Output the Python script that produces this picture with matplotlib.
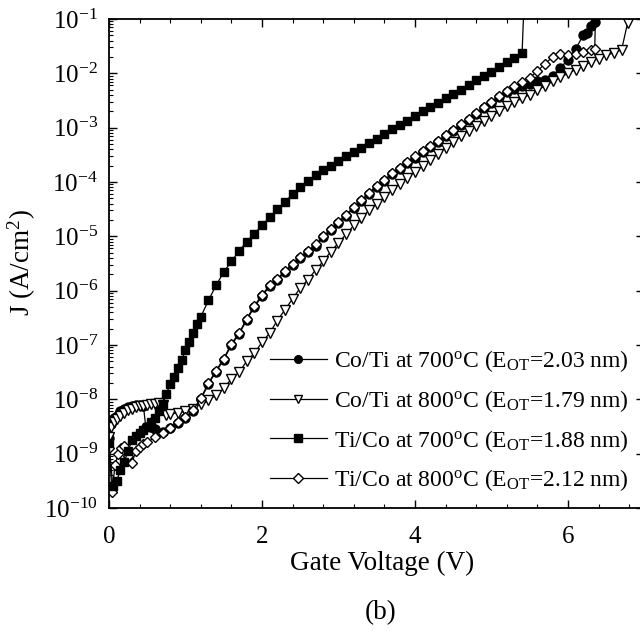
import matplotlib
matplotlib.use('Agg')
import matplotlib.pyplot as plt
import numpy as np
from matplotlib.ticker import LogLocator, MultipleLocator, NullFormatter

# Data: gate voltage (V) and log10 of J (A/cm^2)
v_coti700 = [0.0, 0.03, 0.06, 0.1, 0.15, 0.2, 0.25, 0.3, 0.35, 0.4, 0.45, 0.48,
             0.55, 0.6, 0.7, 0.8, 0.9,
             1.0, 1.1, 1.2, 1.3, 1.4, 1.5, 1.6, 1.7, 1.8, 1.9,
             2.0, 2.1, 2.2, 2.3, 2.4, 2.5, 2.6, 2.7, 2.8, 2.9,
             3.0, 3.1, 3.2, 3.3, 3.4, 3.5, 3.6, 3.7, 3.8, 3.9,
             4.0, 4.1, 4.2, 4.3, 4.4, 4.5, 4.6, 4.7, 4.8, 4.9,
             5.0, 5.1, 5.2, 5.3, 5.4, 5.5, 5.6, 5.7, 5.8, 5.9,
             6.0, 6.1, 6.2, 6.25, 6.3, 6.35, 6.36]
lj_coti700 = [-8.72, -8.45, -8.35, -8.3, -8.22, -8.18, -8.14, -8.12, -8.1, -8.1, -8.12, -8.5,
              -8.5, -8.55, -8.6, -8.53, -8.44,
              -8.35, -8.22, -8.0, -7.72, -7.49, -7.27, -7.0, -6.8, -6.54, -6.3,
              -6.1, -5.92, -5.8, -5.66, -5.52, -5.4, -5.29, -5.17, -5.02, -4.89,
              -4.75, -4.62, -4.48, -4.35, -4.22, -4.09, -3.98, -3.86, -3.76, -3.65,
              -3.55, -3.45, -3.35, -3.26, -3.16, -3.06, -2.96, -2.86, -2.75, -2.64,
              -2.54, -2.44, -2.35, -2.28, -2.23, -2.19, -2.15, -2.12, -2.05, -1.9,
              -1.75, -1.55, -1.3, -1.25, -1.12, -1.05, -0.9]

v_coti800 = [0.0, 0.03, 0.06, 0.1, 0.15, 0.2, 0.25, 0.3, 0.35, 0.4, 0.45, 0.5,
             0.55, 0.6, 0.65, 0.7, 0.75, 0.8, 0.9,
             1.0, 1.1, 1.2, 1.3, 1.4, 1.5, 1.6, 1.7, 1.8, 1.9,
             2.0, 2.1, 2.2, 2.3, 2.4, 2.5, 2.6, 2.7, 2.8, 2.9,
             3.0, 3.1, 3.2, 3.3, 3.4, 3.5, 3.6, 3.7, 3.8, 3.9,
             4.0, 4.1, 4.2, 4.3, 4.4, 4.5, 4.6, 4.7, 4.8, 4.9,
             5.0, 5.1, 5.2, 5.3, 5.4, 5.5, 5.6, 5.7, 5.8, 5.9,
             6.0, 6.1, 6.2, 6.3, 6.4, 6.5, 6.6, 6.7, 6.78, 6.8]
lj_coti800 = [-8.7, -8.5, -8.42, -8.36, -8.3, -8.25, -8.2, -8.17, -8.15, -8.13, -8.12, -8.1,
              -8.09, -8.08, -8.07, -8.1, -8.28, -8.27, -8.25,
              -8.22, -8.17, -8.08, -8.02, -7.92, -7.8, -7.62, -7.5, -7.3, -7.15,
              -6.95, -6.78, -6.55, -6.35, -6.15, -5.95, -5.8, -5.62, -5.46, -5.28,
              -5.12, -4.96, -4.8, -4.66, -4.52, -4.4, -4.28, -4.15, -4.03, -3.92,
              -3.81, -3.7, -3.59, -3.48, -3.37, -3.26, -3.16, -3.06, -2.97, -2.88,
              -2.79, -2.7, -2.61, -2.53, -2.46, -2.39, -2.31, -2.23, -2.15, -2.07,
              -2.0, -1.93, -1.86, -1.79, -1.73, -1.67, -1.62, -1.57, -1.07, -0.9]

v_tico700 = [0.0, 0.05, 0.1, 0.15, 0.2, 0.25, 0.3, 0.35, 0.4, 0.45, 0.5,
             0.55, 0.6, 0.65, 0.7, 0.75, 0.8, 0.85, 0.9, 0.95, 1.0,
             1.05, 1.1, 1.15, 1.2, 1.3, 1.4, 1.5, 1.6, 1.7, 1.8, 1.9,
             2.0, 2.1, 2.2, 2.3, 2.4, 2.5, 2.6, 2.7, 2.8, 2.9,
             3.0, 3.1, 3.2, 3.3, 3.4, 3.5, 3.6, 3.7, 3.8, 3.9,
             4.0, 4.1, 4.2, 4.3, 4.4, 4.5, 4.6, 4.7, 4.8, 4.9,
             5.0, 5.1, 5.2, 5.3, 5.4, 5.42]
lj_tico700 = [-8.8, -9.6, -9.5, -9.3, -9.15, -8.95, -8.75, -8.68, -8.62, -8.57, -8.5,
              -8.42, -8.35, -8.22, -8.08, -7.9, -7.72, -7.58, -7.42, -7.27, -7.1,
              -6.94, -6.78, -6.62, -6.48, -6.18, -5.9, -5.66, -5.46, -5.27, -5.1, -4.95,
              -4.8, -4.65, -4.5, -4.36, -4.23, -4.1, -3.98, -3.88, -3.78, -3.7,
              -3.62, -3.53, -3.45, -3.37, -3.28, -3.2, -3.12, -3.03, -2.95, -2.87,
              -2.79, -2.7, -2.62, -2.54, -2.46, -2.38, -2.3, -2.21, -2.13, -2.05,
              -1.97, -1.89, -1.8, -1.72, -1.63, -0.9]

v_tico800 = [0.0, 0.04, 0.08, 0.12, 0.16, 0.2, 0.25, 0.3, 0.35, 0.4, 0.45, 0.5,
             0.6, 0.7, 0.8, 0.9,
             1.0, 1.1, 1.2, 1.3, 1.4, 1.5, 1.6, 1.7, 1.8, 1.9,
             2.0, 2.1, 2.2, 2.3, 2.4, 2.5, 2.6, 2.7, 2.8, 2.9,
             3.0, 3.1, 3.2, 3.3, 3.4, 3.5, 3.6, 3.7, 3.8, 3.9,
             4.0, 4.1, 4.2, 4.3, 4.4, 4.5, 4.6, 4.7, 4.8, 4.9,
             5.0, 5.1, 5.2, 5.3, 5.4, 5.5, 5.6, 5.7, 5.8, 5.9,
             6.0, 6.1, 6.2, 6.3, 6.35, 6.36]
lj_tico800 = [-8.9, -9.7, -9.2, -9.0, -8.9, -8.85, -9.05, -9.18, -8.95, -8.88, -8.83, -8.79,
              -8.7, -8.62, -8.53, -8.42,
              -8.33, -8.2, -7.98, -7.7, -7.47, -7.25, -6.98, -6.78, -6.52, -6.28,
              -6.08, -5.9, -5.78, -5.64, -5.5, -5.38, -5.27, -5.15, -5.0, -4.87,
              -4.73, -4.6, -4.46, -4.33, -4.2, -4.07, -3.96, -3.84, -3.74, -3.63,
              -3.53, -3.43, -3.33, -3.24, -3.14, -3.04, -2.94, -2.84, -2.73, -2.62,
              -2.52, -2.42, -2.32, -2.24, -2.16, -2.08, -1.96, -1.82, -1.7, -1.64,
              -1.66, -1.64, -1.6, -1.57, -1.55, -0.9]

labels = ['Co/Ti at 700$^{\\rm o}$C (E$_{\\rm OT}$=2.03 nm)',
          'Co/Ti at 800$^{\\rm o}$C (E$_{\\rm OT}$=1.79 nm)',
          'Ti/Co at 700$^{\\rm o}$C (E$_{\\rm OT}$=1.88 nm)',
          'Ti/Co at 800$^{\\rm o}$C (E$_{\\rm OT}$=2.12 nm)']

plt.rcParams['font.family'] = 'Liberation Serif'
plt.rcParams['mathtext.fontset'] = 'custom'
plt.rcParams['mathtext.rm'] = 'Liberation Serif'
plt.rcParams['mathtext.it'] = 'Liberation Serif:italic'

fig = plt.figure(figsize=(6.4, 6.31), dpi=100)
ax = fig.add_axes([0.1703, 0.1949, 0.8367, 0.775])

kw = dict(color='black', lw=0.9, mec='black', mew=1.0)
ax.plot(v_coti700, 10.0 ** np.array(lj_coti700), marker='o', ms=6.5, mfc='black', label=labels[0], **kw)
ax.plot(v_coti800, 10.0 ** np.array(lj_coti800), marker='v', ms=7, mfc='white', label=labels[1], **kw)
ax.plot(v_tico800, 10.0 ** np.array(lj_tico800), marker='D', ms=5.5, mfc='white', label=labels[3], **kw)
ax.plot(v_tico700, 10.0 ** np.array(lj_tico700), marker='s', ms=6, mfc='black', label=labels[2], **kw)

ax.set_yscale('log')
ax.set_xlim(0, 7)
ax.set_ylim(1e-10, 1e-1)

ax.xaxis.set_major_locator(MultipleLocator(2))
ax.xaxis.set_minor_locator(MultipleLocator(0.4))
ax.yaxis.set_major_locator(LogLocator(base=10, numticks=20))
ax.yaxis.set_minor_locator(LogLocator(base=10, subs=np.arange(2, 10), numticks=20))
ax.yaxis.set_minor_formatter(NullFormatter())

ax.tick_params(which='both', direction='in', top=True, right=True, labelsize=18)
ax.tick_params(which='major', length=6, width=1)
ax.tick_params(which='minor', length=3, width=0.8)
ax.tick_params(axis='x', pad=13)
ax.tick_params(axis='y', pad=8)
for s in ax.spines.values():
    s.set_linewidth(1.3)

handles, labs = ax.get_legend_handles_labels()
order = [0, 1, 3, 2]
leg = ax.legend([handles[i] for i in order], [labs[i] for i in order],
                loc='lower right', bbox_to_anchor=(0.97, 0.03), frameon=False,
                fontsize=17, handlelength=2.4, handletextpad=0.3, labelspacing=0.58,
                borderpad=0, borderaxespad=0, numpoints=1, markerscale=0.85)

fig.text(22 / 640, 1 - 263 / 631, 'J (A/cm$^{2}$)', rotation=90, ha='center', va='center', fontsize=19.5)
fig.text(382 / 640, 1 - 563 / 631, 'Gate Voltage (V)', ha='center', va='center', fontsize=19.5)
fig.text(381 / 640, 1 - 613 / 631, '(b)', ha='center', va='center', fontsize=19.5)

fig.savefig('out.png', dpi=100)
